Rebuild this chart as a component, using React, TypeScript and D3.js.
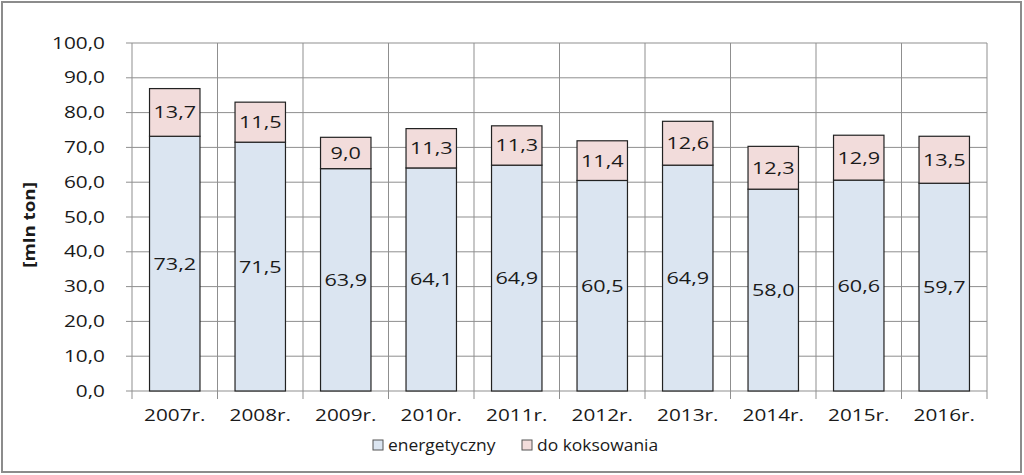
import React from "react";
import * as d3 from "d3";

const years = ["2007r.", "2008r.", "2009r.", "2010r.", "2011r.", "2012r.", "2013r.", "2014r.", "2015r.", "2016r."];
const energetyczny = [73.2, 71.5, 63.9, 64.1, 64.9, 60.5, 64.9, 58.0, 60.6, 59.7];
const koksowanie = [13.7, 11.5, 9.0, 11.3, 11.3, 11.4, 12.6, 12.3, 12.9, 13.5];
const yTicks = [0, 10, 20, 30, 40, 50, 60, 70, 80, 90, 100];
const seriesNames = ["energetyczny", "do koksowania"];

const W = 1024, H = 475;
const left = 132, right = 987, top = 43, bottom = 391;
const FONT = "'Open Sans', sans-serif";
const fmt = (v: number) => v.toFixed(1).replace(".", ",");

function T(props: { x: number; y: number; sx: number; size: number; anchor?: string; weight?: string; rotate?: number; children: React.ReactNode }) {
  const { x, y, sx, size, anchor = "middle", weight = "normal", rotate = 0, children } = props;
  return (
    <text
      transform={`translate(${x},${y}) rotate(${rotate}) scale(${sx},1)`}
      textAnchor={anchor}
      dy="0.35em"
      fontSize={size}
      fontWeight={weight}
      fill="#1a1a1a"
    >
      {children}
    </text>
  );
}

export default function App() {
  const x = d3.scaleBand<string>().domain(years).range([left, right]).paddingInner(0.41).paddingOuter(0.205);
  const xb = d3.scaleBand<string>().domain(years).range([left, right]);
  const y = d3.scaleLinear().domain([0, 100]).range([bottom, top]);
  const colors = ["#dbe5f1", "#f2dcdb"];
  return (
    <svg width={W} height={H} style={{ position: "absolute", left: 0, top: 0, background: "#fff" }} fontFamily={FONT}>
      <rect x={2} y={2} width={1019} height={470} fill="#fff" stroke="#8c8c8c" strokeWidth={2} />
      {yTicks.map((t) => (
        <line key={"h" + t} x1={left - 6} x2={right} y1={y(t)} y2={y(t)} stroke="#8f8f8f" strokeWidth={1} />
      ))}
      {years.map((c) => (
        <line key={"v" + c} x1={xb(c)!} x2={xb(c)!} y1={top} y2={bottom + 8} stroke="#8f8f8f" strokeWidth={1} />
      ))}
      <line x1={right} x2={right} y1={top} y2={bottom + 8} stroke="#8f8f8f" strokeWidth={1} />
      {yTicks.map((t) => (
        <T key={"yt" + t} x={left - 27} y={y(t)} sx={1.3} size={16} anchor="end">{fmt(t)}</T>
      ))}
      {years.map((c, i) => {
        const e = energetyczny[i], k = koksowanie[i];
        const bx = x(c)!, bw = x.bandwidth();
        return (
          <g key={"b" + c}>
            <rect x={bx} y={y(e)} width={bw} height={y(0) - y(e)} fill={colors[0]} stroke="#222" strokeWidth={1.2} />
            <rect x={bx} y={y(e + k)} width={bw} height={y(e) - y(e + k)} fill={colors[1]} stroke="#222" strokeWidth={1.2} />
            <T x={bx + bw / 2} y={y(e / 2)} sx={1.27} size={17}>{fmt(e)}</T>
            <T x={bx + bw / 2} y={y(e + k / 2)} sx={1.27} size={17}>{fmt(k)}</T>
            <T x={xb(c)! + xb.bandwidth() / 2} y={415} sx={1.22} size={17}>{c}</T>
          </g>
        );
      })}
      <T x={29} y={225} sx={1.17} size={16} weight="bold" rotate={-90}>[mln ton]</T>
      {seriesNames.map((s, i) => {
        const lx = [373, 522][i];
        return (
          <g key={"l" + s}>
            <rect x={lx} y={440} width={10} height={10} fill={colors[i]} stroke="#555" strokeWidth={1} />
            <T x={lx + 15} y={445} sx={1.09} size={16} anchor="start">{s}</T>
          </g>
        );
      })}
    </svg>
  );
}
